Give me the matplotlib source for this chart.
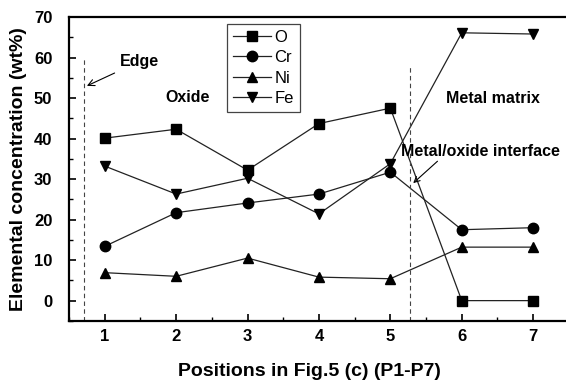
import matplotlib
matplotlib.use("Agg")
import matplotlib.pyplot as plt
from matplotlib.ticker import MultipleLocator

# Data (positions P1-P7)
positions = [1, 2, 3, 4, 5, 6, 7]
o_wt = [40.1, 42.3, 32.2, 43.7, 47.5, 0.0, 0.0]
cr_wt = [13.4, 21.7, 24.1, 26.3, 31.7, 17.5, 18.0]
ni_wt = [6.9, 6.0, 10.5, 5.8, 5.4, 13.2, 13.2]
fe_wt = [33.2, 26.3, 30.2, 21.4, 33.8, 66.1, 65.8]

series = [("O", o_wt, "s"), ("Cr", cr_wt, "o"), ("Ni", ni_wt, "^"), ("Fe", fe_wt, "v")]

plt.rcParams["font.family"] = ["Liberation Sans", "DejaVu Sans"]

fig = plt.figure(figsize=(5.66, 3.82), dpi=100)
ax = fig.add_axes([0.122, 0.160, 0.878, 0.7955])

for name, vals, marker in series:
    ax.plot(positions, vals, color="#222222", linewidth=0.9, marker=marker,
            markersize=7.5, markerfacecolor="black", markeredgecolor="black",
            label=name)

# edge and interface lines
ax.plot([0.705, 0.705], [-5, 60], color="#444444", linestyle=(0, (4, 3)), linewidth=0.8)
ax.plot([5.28, 5.28], [-5, 58], color="#444444", linestyle=(0, (4, 3)), linewidth=0.8)

bold = dict(fontweight="bold", fontsize=11.5)
ax.annotate("Edge", xy=(0.75, 53), xytext=(1.21, 59), va="center", ha="left",
            arrowprops=dict(arrowstyle="->", color="black", lw=0.8, shrinkA=2, shrinkB=0),
            **bold)
ax.text(2.16, 50.2, "Oxide", ha="center", va="center", **bold)
ax.text(6.43, 50, "Metal matrix", ha="center", va="center", **bold)
ax.text(6.26, 36.9, "Metal/oxide interface", ha="center", va="center", **bold)
ax.annotate("", xy=(5.32, 29.0), xytext=(5.66, 34.4),
            arrowprops=dict(arrowstyle="->", color="black", lw=0.8, shrinkA=0, shrinkB=0))

ax.set_xlim(0.5, 7.46)
ax.set_ylim(-5, 70)
ax.xaxis.set_major_locator(MultipleLocator(1))
ax.xaxis.set_minor_locator(MultipleLocator(0.5))
ax.yaxis.set_major_locator(MultipleLocator(10))
ax.yaxis.set_minor_locator(MultipleLocator(5))
ax.tick_params(which="major", direction="in", length=5, width=1.2, labelsize=12)
ax.tick_params(which="minor", direction="in", length=3, width=1.0)
ax.tick_params(axis="x", which="major", pad=6)
ax.tick_params(axis="y", which="major", pad=12)
for lab in ax.get_xticklabels() + ax.get_yticklabels():
    lab.set_fontweight("bold")

for side in ("left", "bottom", "top"):
    ax.spines[side].set_linewidth(1.6)
ax.spines["right"].set_visible(False)

ax.set_xlabel("Positions in Fig.5 (c) (P1-P7)", fontweight="bold", fontsize=14)
ax.xaxis.set_label_coords(0.483, -0.137, transform=ax.transAxes)
ax.xaxis.label.set_va("top")
ax.set_ylabel("Elemental concentration (wt%)", fontweight="bold", fontsize=14, labelpad=5)

leg = ax.legend(loc="upper left", bbox_to_anchor=(0.318, 0.977), fontsize=12,
                handlelength=2.3, handletextpad=0.2, borderpad=0.35, labelspacing=0.33,
                borderaxespad=0, fancybox=False, edgecolor="#444444", framealpha=1)
leg.get_frame().set_linewidth(0.9)

fig.savefig("out.png", dpi=100)
